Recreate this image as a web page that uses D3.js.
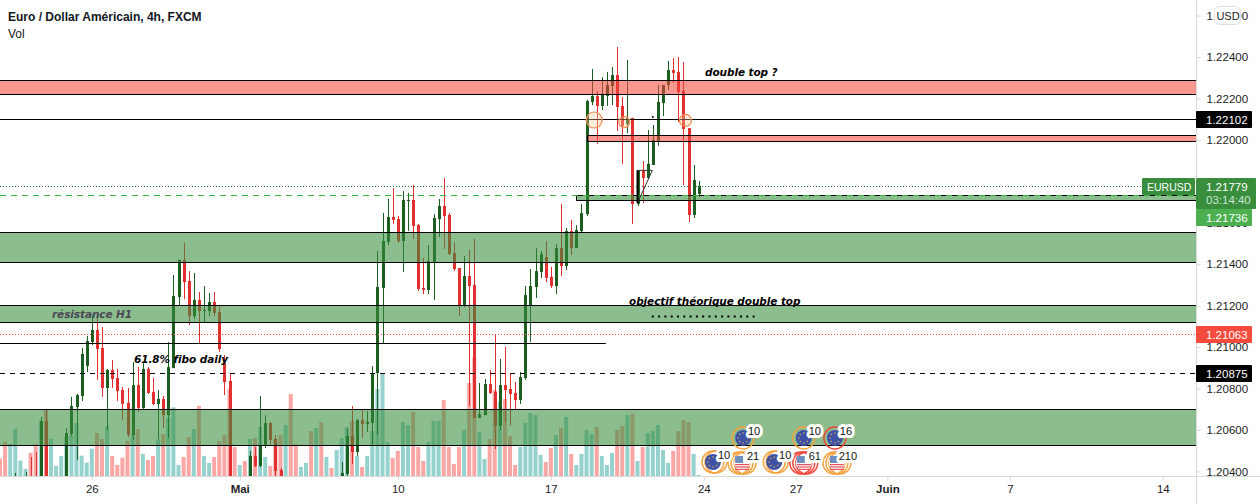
<!DOCTYPE html>
<html>
<head>
<meta charset="utf-8">
<script src="https://cdnjs.cloudflare.com/ajax/libs/d3/7.8.5/d3.min.js"></script>
<style>
  html, body { margin: 0; padding: 0; background: #fff; overflow: hidden; }
  svg { display: block; }
  text { font-family: "Liberation Sans", sans-serif; }
  .note { font-family: "DejaVu Sans", sans-serif; font-weight: bold; font-style: italic; font-size: 10.5px; letter-spacing: -0.08px; }
</style>
</head>
<body>
<svg id="chart" width="1260" height="504"></svg>
<script>
// EURUSD 4h candles
const opens = [
  1.20311,1.20287,1.20263,1.20311,1.20321,1.20330,1.20359,1.20349,1.20311,1.20644,
  1.20287,1.20301,1.20321,1.20340,1.20581,1.20711,1.20764,1.20909,1.21025,1.21083,
  1.20996,1.20803,1.20890,1.20851,1.20793,1.20731,1.20576,1.20817,1.20706,1.20895,
  1.20784,1.20726,1.20750,1.20672,1.20899,1.21242,1.21421,1.21319,1.21150,1.21228,
  1.21174,1.21174,1.21218,1.21170,1.20923,1.20837,1.20311,1.20272,1.20330,1.20301,
  1.20475,1.20427,1.20528,1.20634,1.20557,1.20407,1.20311,1.20340,1.20301,1.20238,
  1.20263,1.20301,1.20277,1.20330,1.20301,1.20335,1.20311,1.20349,1.20388,1.20571,
  1.20494,1.20648,1.20629,1.20634,1.20875,1.21285,1.21507,1.21628,1.21618,1.21512,
  1.21705,1.21710,1.21589,1.21285,1.21276,1.21411,1.21618,1.21681,1.21638,1.21454,
  1.21382,1.21203,1.21343,1.21300,1.20658,1.20672,1.20822,1.20784,1.20620,1.20817,
  1.20798,1.20779,1.20745,1.20851,1.21203,1.21290,1.21363,1.21435,1.21339,1.21295,
  1.21478,1.21392,1.21560,1.21478,1.21560,1.21642,1.22183,1.22212,1.22164,1.22212,
  1.22260,1.22313,1.22164,1.22077,1.22106,1.21691,1.21850,1.21816,1.21879,1.21995,
  1.22178,1.22265,1.22337,1.22328,1.22236,1.22057,1.21638,1.21739
];
const highs = [
  1.20340,1.20311,1.20349,1.20393,1.20359,1.20398,1.20470,1.20494,1.20663,1.20701,
  1.20349,1.20359,1.20369,1.20610,1.20760,1.20774,1.20996,1.21054,1.21155,1.21145,
  1.21097,1.20895,1.20938,1.20895,1.20808,1.20803,1.20928,1.20904,1.20928,1.20904,
  1.20851,1.20793,1.20764,1.21025,1.21348,1.21421,1.21503,1.21367,1.21358,1.21266,
  1.21295,1.21261,1.21266,1.21203,1.20962,1.20875,1.20359,1.20340,1.20359,1.20499,
  1.20518,1.20764,1.20672,1.20639,1.20576,1.20417,1.20359,1.20359,1.20330,1.20311,
  1.20321,1.20335,1.20349,1.20359,1.20349,1.20354,1.20359,1.20446,1.20605,1.20716,
  1.20653,1.20697,1.20692,1.20909,1.21464,1.21647,1.21715,1.21768,1.21633,1.21753,
  1.21744,1.21782,1.21594,1.21430,1.21493,1.21642,1.21715,1.21816,1.21647,1.21507,
  1.21382,1.21440,1.21469,1.21522,1.20827,1.20846,1.20890,1.21063,1.20943,1.21001,
  1.20875,1.20832,1.20880,1.21295,1.21377,1.21478,1.21464,1.21512,1.21387,1.21498,
  1.21691,1.21575,1.21614,1.21589,1.21691,1.22193,1.22342,1.22236,1.22303,1.22328,
  1.22352,1.22448,1.22207,1.22386,1.22106,1.21850,1.21898,1.22048,1.22072,1.22265,
  1.22265,1.22381,1.22395,1.22400,1.22376,1.22057,1.21879,1.21802
];
const lows = [
  1.20263,1.20238,1.20238,1.20287,1.20287,1.20301,1.20311,1.20287,1.20287,1.20287,
  1.20263,1.20272,1.20287,1.20311,1.20571,1.20456,1.20740,1.20880,1.21010,1.20842,
  1.20760,1.20600,1.20803,1.20740,1.20648,1.20566,1.20552,1.20687,1.20697,1.20774,
  1.20721,1.20557,1.20610,1.20562,1.20899,1.21203,1.21232,1.21107,1.21136,1.21020,
  1.21121,1.21150,1.21150,1.20977,1.20769,1.20287,1.20263,1.20238,1.20272,1.20272,
  1.20422,1.20422,1.20513,1.20528,1.20378,1.20311,1.20263,1.20277,1.20238,1.20214,
  1.20238,1.20263,1.20253,1.20287,1.20272,1.20287,1.20287,1.20321,1.20369,1.20436,
  1.20475,1.20562,1.20591,1.20528,1.20576,1.21020,1.21493,1.21594,1.21503,1.21363,
  1.21560,1.21522,1.21271,1.21256,1.21256,1.21228,1.21531,1.21474,1.21445,1.21367,
  1.21150,1.21194,1.20716,1.20658,1.20658,1.20672,1.20774,1.20509,1.20600,1.20639,
  1.20620,1.20701,1.20726,1.20842,1.21025,1.21237,1.21334,1.21314,1.21285,1.21256,
  1.21343,1.21372,1.21445,1.21478,1.21551,1.21633,1.22168,1.21980,1.22144,1.22164,
  1.22168,1.22043,1.21884,1.22033,1.21594,1.21681,1.21696,1.21811,1.21879,1.21971,
  1.22115,1.22241,1.22275,1.22086,1.21782,1.21604,1.21623,1.21725
];
const closes = [
  1.20287,1.20263,1.20321,1.20349,1.20340,1.20359,1.20330,1.20311,1.20644,1.20311,
  1.20335,1.20340,1.20349,1.20586,1.20716,1.20769,1.20967,1.21030,1.21083,1.20991,
  1.20803,1.20890,1.20846,1.20788,1.20726,1.20576,1.20817,1.20706,1.20895,1.20779,
  1.20726,1.20750,1.20672,1.20904,1.21247,1.21421,1.21314,1.21150,1.21228,1.21174,
  1.21179,1.21218,1.21165,1.20991,1.20832,1.20311,1.20277,1.20321,1.20291,1.20475,
  1.20427,1.20523,1.20634,1.20552,1.20403,1.20335,1.20340,1.20301,1.20263,1.20287,
  1.20301,1.20277,1.20330,1.20301,1.20335,1.20311,1.20340,1.20393,1.20571,1.20494,
  1.20648,1.20629,1.20639,1.20875,1.21290,1.21512,1.21628,1.21614,1.21512,1.21710,
  1.21710,1.21585,1.21281,1.21276,1.21416,1.21623,1.21681,1.21633,1.21449,1.21377,
  1.21203,1.21343,1.21295,1.20658,1.20677,1.20822,1.20779,1.20620,1.20817,1.20793,
  1.20774,1.20745,1.20856,1.21252,1.21295,1.21367,1.21449,1.21334,1.21295,1.21478,
  1.21392,1.21560,1.21478,1.21565,1.21647,1.22188,1.22212,1.22164,1.22217,1.22265,
  1.22313,1.22159,1.22067,1.22106,1.21691,1.21850,1.21816,1.21884,1.22000,1.22183,
  1.22265,1.22337,1.22323,1.22231,1.22053,1.21638,1.21807,1.21779
];
const volumes = [
  53,102,96,142,46,21,70,96,165,200,
  112,30,60,118,123,159,61,40,82,129,
  111,150,60,33,55,105,123,141,66,48,
  60,111,126,174,206,33,57,117,141,210,
  60,39,57,105,123,261,87,33,45,111,
  114,147,57,30,111,123,153,246,96,27,
  39,135,144,162,57,24,78,114,147,165,
  60,27,60,135,261,306,102,54,75,162,
  153,192,87,45,102,165,165,228,87,36,
  87,138,279,357,132,51,111,258,222,231,
  120,33,87,159,189,183,63,42,84,123,
  144,177,66,33,66,138,126,147,60,33,
  69,138,150,183,186,45,87,129,135,153,
  78,39,75,135,168,162,66,3
];

const priceTicks = [1.204,1.206,1.208,1.21,1.212,1.214,1.216,1.218,1.22,1.222,1.224,1.226];
const timeTicks = [18,47,78,108,138,156,174,198,228];
const timeLabels = ["26","Mai","10","17","24","27","Juin","7","14"];
const boldTimeLabels = ["Mai","Juin"];

// drawn zones: [top price, bottom price, first candle]
const greenZoneTops = [1.21554,1.21201,1.20700,1.21734];
const greenZoneBottoms = [1.21409,1.21119,1.20526,1.21711];
const greenZoneStarts = [-1,-1,-1,113];
const redZoneTops = [1.22289,1.22024];
const redZoneBottoms = [1.22221,1.21994];
const redZoneStarts = [-1,115];

const level1 = 1.22102;
const level2 = 1.20875;
const fiboLevel = 1.21019;
const fiboEnd = 118.8;
const lastPrice = 1.21779;
const bidPrice = 1.21736;
const redLevel = 1.21063;
const targetLevel = 1.21151;
const targetStart = 127.8;
const targetEnd = 148.4;

// event badges on the time axis
const euEventIdx = [139.8,145.7,151.8,157.6,163.7];
const euEventRow = [1,0,1,0,0];
const euEventText = ["10","10","10","10","16"];
const usEventIdx = [145.5,157.6,164.1];
const usEventText = ["21","61","210"];

const W = 1260, H = 504, plotW = 1196, plotH = 476;
const svg = d3.select("#chart");

const x = d3.scaleLinear().domain([0, 234.5]).range([0, plotW]);
const y = d3.scaleLinear().domain([1.204, 1.224]).range([471.5, 57]);
const v = d3.scaleLinear().domain([0, 408]).range([plotH, plotH - 136]);
const snap = p => Math.round(y(p)) + 0.5;

svg.append("defs").append("clipPath").attr("id", "plot")
  .append("rect").attr("width", plotW).attr("height", plotH);

const plot = svg.append("g").attr("clip-path", "url(#plot)");

const candles = d3.range(opens.length);
const isUp = i => closes[i] >= opens[i];

// volume under everything
plot.append("g").selectAll("rect").data(candles).join("rect")
  .attr("x", i => x(i) - 2)
  .attr("width", 4)
  .attr("y", i => v(volumes[i]))
  .attr("height", i => plotH - v(volumes[i]))
  .attr("fill", i => isUp(i) ? "#95d2ce" : "#faa6a5");

plot.append("g").selectAll("line").data(candles).join("line")
  .attr("x1", i => Math.round(x(i)) + 0.5)
  .attr("x2", i => Math.round(x(i)) + 0.5)
  .attr("y1", i => y(highs[i]))
  .attr("y2", i => y(lows[i]))
  .attr("stroke", i => isUp(i) ? "#1b5e20" : "#e03030");

plot.append("g").selectAll("rect").data(candles).join("rect")
  .attr("x", i => Math.round(x(i)) - 1)
  .attr("width", 3)
  .attr("y", i => y(Math.max(opens[i], closes[i])))
  .attr("height", i => Math.max(1, Math.abs(y(opens[i]) - y(closes[i]))))
  .attr("fill", i => isUp(i) ? "#1b5e20" : "#e03030");

function zones(tops, bottoms, starts, fill) {
  plot.append("g").selectAll("rect").data(tops).join("rect")
    .attr("x", (d, i) => Math.round(x(starts[i])) + 0.5)
    .attr("width", (d, i) => plotW - x(starts[i]) + 10)
    .attr("y", d => snap(d))
    .attr("height", (d, i) => snap(bottoms[i]) - snap(d))
    .attr("fill", fill)
    .attr("stroke", "#000")
    .attr("stroke-width", 1);
}
zones(greenZoneTops, greenZoneBottoms, greenZoneStarts, "rgba(56,142,60,0.58)");
zones(redZoneTops, redZoneBottoms, redZoneStarts, "rgba(244,67,54,0.55)");

function hline(price, x0, x1, stroke, dash, width) {
  plot.append("line")
    .attr("x1", x0).attr("x2", x1)
    .attr("y1", snap(price)).attr("y2", snap(price))
    .attr("stroke", stroke)
    .attr("stroke-width", width || 1)
    .attr("stroke-dasharray", dash || null);
}
hline(level1, 0, plotW, "#000");
hline(level2, 0, plotW, "#000", "5 5");
hline(fiboLevel, 0, x(fiboEnd), "#000");
hline(lastPrice, 0, plotW, "#2e7d32", "1 2");
hline(bidPrice, 0, plotW, "#35b53f", "6 5");
hline(redLevel, 0, plotW, "#f44336", "1 2");
hline(targetLevel, x(targetStart), x(targetEnd), "#000", "2 4.3", 2);

// circles on the double top
const circleIdx = [116.5, 122.4, 134.4];
const circlePrice = [1.22096, 1.22086, 1.22094];
const circleR = [8, 5.5, 6];
plot.append("g").selectAll("circle").data(circleIdx).join("circle")
  .attr("cx", d => x(d))
  .attr("cy", (d, i) => y(circlePrice[i]))
  .attr("r", (d, i) => circleR[i])
  .attr("fill", "rgba(255,200,150,0.35)")
  .attr("stroke", "#f08a50")
  .attr("stroke-width", 1.2);

// small triangle
plot.append("path")
  .attr("d", d3.line()([[x(125), y(1.21853)], [x(127.9), y(1.21853)], [x(125), y(1.21696)]]) + "Z")
  .attr("fill", "none").attr("stroke", "#333").attr("stroke-width", 1);
plot.append("line")
  .attr("x1", x(125)).attr("x2", x(125)).attr("y1", y(1.21853)).attr("y2", y(1.21696))
  .attr("stroke", "#000").attr("stroke-width", 2);
plot.append("circle").attr("cx", x(128)).attr("cy", y(1.22111)).attr("r", 1).attr("fill", "#000");

// text notes
const notes = [
  ["double top ?", 705, 76, "#000"],
  ["objectif théorique double top", 629, 305, "#000"],
  ["résistance H1", 52, 318, "#4a4a55"],
  ["61.8% fibo daily", 134, 363, "#000"]
];
svg.append("g").selectAll("text").data(notes).join("text")
  .attr("class", "note")
  .attr("x", d => d[1]).attr("y", d => d[2]).attr("fill", d => d[3])
  .text(d => d[0]);

// event badges
const ringLayer = svg.append("g");
const discLayer = svg.append("g");
const labelLayer = svg.append("g");
function rings(cx, cy, color, offsets) {
  offsets.forEach(o => ringLayer.append("circle")
    .attr("cx", cx + o).attr("cy", cy).attr("r", 11)
    .attr("fill", "none").attr("stroke", color).attr("stroke-width", 1.4));
}
function label(cx, cy, txt) {
  labelLayer.append("text").attr("x", cx + 11).attr("y", cy - 7)
    .attr("text-anchor", "middle")
    .attr("dy", "0.35em").attr("font-size", 11).attr("fill", "#111")
    .attr("paint-order", "stroke").attr("stroke", "#fff").attr("stroke-width", 6)
    .attr("stroke-linejoin", "round")
    .text(txt);
}
euEventIdx.forEach((d, i) => {
  const cx = x(d), cy = euEventRow[i] ? 462 : 438;
  rings(cx, cy, i === 4 ? "#f0453a" : "#f5a23c", euEventRow[i] ? [0, 3] : [0]);
  discLayer.append("circle").attr("cx", cx).attr("cy", cy).attr("r", 8).attr("fill", "#3f51a5");
  d3.range(8).forEach(k => discLayer.append("circle")
    .attr("cx", cx + 5 * Math.cos(k * Math.PI / 4))
    .attr("cy", cy + 5 * Math.sin(k * Math.PI / 4))
    .attr("r", 0.8).attr("fill", "#d9b24a"));
  label(cx, cy, euEventText[i]);
});
usEventIdx.forEach((d, i) => {
  const cx = x(d), cy = 463;
  rings(cx, cy, i === 1 ? "#f0453a" : "#f5a23c", [-3, 0, 3]);
  discLayer.append("circle").attr("cx", cx).attr("cy", cy).attr("r", 8).attr("fill", "#fff");
  d3.range(3).forEach(k => discLayer.append("rect")
    .attr("x", cx - 7).attr("y", cy + 1 + k * 2.4).attr("width", 14).attr("height", 1.2).attr("fill", "#e8505b"));
  discLayer.append("rect").attr("x", cx - 7).attr("y", cy - 7).attr("width", 8).attr("height", 7).attr("fill", "#6f8fc0");
  label(cx, cy, usEventText[i]);
});

// axes
const axisColor = "#d8d8d8", textColor = "#1c1c24";

const yAxis = d3.axisRight(y).tickValues(priceTicks).tickFormat(d3.format(".5f")).tickSize(4).tickPadding(6);
const gy = svg.append("g").attr("transform", `translate(${plotW + 0.5},0)`).call(yAxis);
gy.select(".domain").remove();
gy.selectAll("line").attr("stroke", axisColor);
gy.selectAll("text").attr("font-size", 11.5).attr("fill", textColor).attr("font-family", "Liberation Sans");

const xAxis = d3.axisBottom(x).tickValues(timeTicks).tickFormat((d, i) => timeLabels[i]).tickSize(4).tickPadding(4);
const gx = svg.append("g").attr("transform", `translate(0,${plotH + 0.5})`).call(xAxis);
gx.select(".domain").remove();
gx.selectAll("line").attr("stroke", axisColor);
gx.selectAll("text").attr("font-size", 11.5).attr("fill", textColor).attr("font-family", "Liberation Sans")
  .attr("font-weight", (d, i) => boldTimeLabels.includes(timeLabels[i]) ? "bold" : "normal");

svg.append("line").attr("x1", plotW + 0.5).attr("x2", plotW + 0.5).attr("y1", 0).attr("y2", H).attr("stroke", axisColor);
svg.append("line").attr("x1", 0).attr("x2", W).attr("y1", plotH + 0.5).attr("y2", plotH + 0.5).attr("stroke", axisColor);

// price tags
function tag(x0, y0, w, h, fill, lines, size) {
  svg.append("rect").attr("x", x0).attr("y", y0).attr("width", w).attr("height", h).attr("fill", fill).attr("rx", 1);
  lines.forEach(l => svg.append("text").attr("x", x0 + l[1]).attr("y", y0 + l[2])
    .attr("font-size", size || 11.5).attr("fill", l[3] || "#fff").text(l[0]));
}
tag(1196, 111, 56, 17, "#000", [[level1.toFixed(5), 10, 12.5]]);
tag(1142, 178, 53, 17, "#388e3c", [["EURUSD", 5, 12.5]], 10.5);
tag(1196, 178, 60, 31, "#388e3c", [[lastPrice.toFixed(5), 10, 12.5], ["03:14:40", 10, 26, "#cfe6d0"]]);
tag(1196, 209, 56, 17, "#4caf50", [[bidPrice.toFixed(5), 10, 12.5]]);
tag(1196, 326, 56, 17, "#f44b3c", [[redLevel.toFixed(5), 10, 12.5]]);
tag(1196, 365, 56, 17, "#000", [[level2.toFixed(5), 10, 12.5]]);

// currency badge
svg.append("rect").attr("x", 1214.5).attr("y", 6.5).attr("width", 26).attr("height", 18).attr("rx", 5)
  .attr("fill", "#fff").attr("stroke", "#e0e0e0");
svg.append("text").attr("x", 1228).attr("y", 19.5).attr("text-anchor", "middle")
  .attr("font-size", 11).attr("fill", textColor).text("USD");

// legend
svg.append("text").attr("x", 8).attr("y", 21).attr("font-family", "Open Sans").attr("font-weight", 600)
  .attr("font-size", 12).attr("fill", "#131722").text("Euro / Dollar Américain, 4h, FXCM");
svg.append("text").attr("x", 8).attr("y", 38).attr("font-family", "Open Sans")
  .attr("font-size", 12).attr("fill", "#131722").text("Vol");
</script>
</body>
</html>
